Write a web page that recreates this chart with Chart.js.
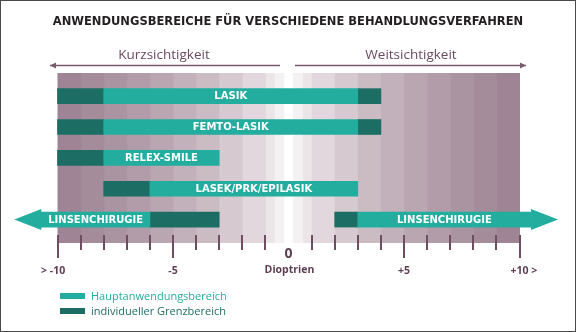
<!DOCTYPE html>
<html>
<head>
<meta charset="utf-8">
<script src="https://cdn.jsdelivr.net/npm/chart.js@4.4.1/dist/chart.umd.min.js"></script>
<style>
    html, body { margin: 0; padding: 0; background: #fff; }
    #wrap { position: relative; width: 576px; height: 332px; overflow: hidden; font-family: "Open Sans", sans-serif; }
    #wrap canvas { position: absolute; left: 0; top: 0; }
    .frame { position: absolute; left: 0; top: 0; width: 576px; height: 332px; box-sizing: border-box; border: 1px solid #4a4a4a; pointer-events: none; }
    .title { position: absolute; top: 14px; left: 0; width: 576px; text-align: center; font: bold 11.5px "DejaVu Sans", sans-serif; color: #231f20; }
    .side { position: absolute; top: 45px; font-size: 13.5px; color: #6b4a5f; text-align: center; width: 200px; }
    .legend { position: absolute; left: 60px; top: 288px; font-size: 11px; line-height: 15px; }
    .legend div { display: flex; align-items: center; }
    .legend span.sw { display: inline-block; width: 25px; height: 6px; margin-right: 6px; }
</style>
</head>
<body>
<div id="wrap">
    <canvas id="chart" width="576" height="332"></canvas>
    <div class="title">ANWENDUNGSBEREICHE FÜR VERSCHIEDENE BEHANDLUNGSVERFAHREN</div>
    <div class="side" style="left:64px">Kurzsichtigkeit</div>
    <div class="side" style="left:311px">Weitsichtigkeit</div>
    <div class="legend">
        <div style="color:#22ad9f"><span class="sw" style="background:#22ad9f"></span>Hauptanwendungsbereich</div>
        <div style="color:#1c6e65"><span class="sw" style="background:#1c6e65"></span>individueller Grenzbereich</div>
    </div>
    <div class="frame"></div>
</div>
<script>
// Behandlungsverfahren (Zeilen von oben nach unten)
const rows = ['LASIK', 'FEMTO-LASIK', 'RELEX-SMILE', 'LASEK/PRK/EPILASIK', 'LINSENCHIRUGIE'];

// Hauptanwendungsbereich (Dioptrien)
const mainRow   = [0, 1, 2, 3, 4, 4];
const mainFrom  = [-8, -8, -8, -6, -10.7, 3];
const mainTo    = [3, 3, -3, 3, -6, 10.5];
const mainArrow = [0, 0, 0, 0, -1, 1];   // Pfeilspitze links / rechts

// individueller Grenzbereich (Dioptrien)
const edgeRow  = [0, 0, 1, 1, 2, 3, 4, 4];
const edgeFrom = [-10, 3, -10, 3, -10, -8, -6, 2];
const edgeTo   = [-8, 4, -8, 4, -8, -6, -3, 3];

// Achse
const tickValues = [-10, -5, 0, 5, 10];
const tickLabels = ['> -10', '-5', '0', '+5', '+10 >'];

// Hintergrundstreifen: Grenzen (Abstand von 0) und Farben von innen nach außen
const stripeEdges  = [0, 0.2, 0.62, 1, 2, 3, 4, 5, 6, 7, 8, 9, 10];
const stripeColors = ['#ffffff', '#f4f1f3', '#ebe5e8', '#e1d7dc', '#d6cad0', '#cbbcc4',
                      '#c2b0ba', '#baa6b1', '#b29ca9', '#aa94a1', '#a48c9a', '#9e8494'];

const TEAL = '#22ad9f';
const DARK_TEAL = '#1c6e65';
const PURPLE = '#6d4d62';

// Hintergrund zeichnen
const stripePlugin = {
    id: 'stripes',
    beforeDatasetsDraw(chart) {
        const { ctx, chartArea, scales: { x } } = chart;
        const top = chartArea.top;
        const bottom = chartArea.bottom + 8;
        ctx.save();
        for (let i = 0; i < stripeColors.length; i++) {
            const a = stripeEdges[i], b = stripeEdges[i + 1];
            ctx.fillStyle = stripeColors[i];
            [[a, b], [-b, -a]].forEach(([lo, hi]) => {
                const x0 = x.getPixelForValue(lo);
                const x1 = x.getPixelForValue(hi);
                ctx.fillRect(x0, top, x1 - x0 + 0.5, bottom - top);
            });
        }
        ctx.restore();
    }
};

// Pfeile, Beschriftungen, Achsenstriche
const decoPlugin = {
    id: 'deco',
    afterDatasetsDraw(chart) {
        const { ctx, chartArea, scales: { x } } = chart;
        const meta = chart.getDatasetMeta(0);
        ctx.save();

        // Pfeilspitzen
        ctx.fillStyle = TEAL;
        meta.data.forEach((bar, i) => {
            const dir = mainArrow[i];
            if (!dir) return;
            const outer = dir < 0 ? Math.min(bar.x, bar.base) : Math.max(bar.x, bar.base);
            ctx.beginPath();
            ctx.moveTo(outer, bar.y - 10.5);
            ctx.lineTo(outer + dir * 27, bar.y);
            ctx.lineTo(outer, bar.y + 10.5);
            ctx.closePath();
            ctx.fill();
        });

        // Balkentexte
        ctx.fillStyle = '#ffffff';
        ctx.font = 'bold 10px "DejaVu Sans", sans-serif';
        ctx.textAlign = 'center';
        ctx.textBaseline = 'middle';
        meta.data.forEach((bar, i) => {
            const cx = (bar.x + bar.base) / 2;
            ctx.fillText(rows[mainRow[i]], cx, bar.y + 0.5);
        });

        // Achsenstriche
        ctx.strokeStyle = PURPLE;
        ctx.lineWidth = 2;
        for (let v = -10; v <= 10; v++) {
            if (v === 0) continue;
            const px = Math.round(x.getPixelForValue(v));
            const len = v % 5 === 0 ? 23 : 15;
            ctx.beginPath();
            ctx.moveTo(px, chartArea.bottom);
            ctx.lineTo(px, chartArea.bottom + len);
            ctx.stroke();
        }

        // Achsenbeschriftung
        ctx.fillStyle = '#5e3e52';
        tickValues.forEach((v, i) => {
            const px = x.getPixelForValue(v);
            const label = tickLabels[i];
            if (v === 0) {
                ctx.font = 'bold 14px "Open Sans", sans-serif';
                ctx.textAlign = 'center';
                ctx.fillText(label, px, 254);
                return;
            }
            ctx.font = 'bold 10.5px "Open Sans", sans-serif';
            const num = label.replace(/[<> ]/g, '');
            const half = ctx.measureText(num).width / 2;
            if (label.startsWith('>')) {
                ctx.textAlign = 'right';
                ctx.fillText(label, px + half, 271);
            } else {
                ctx.textAlign = 'left';
                ctx.fillText(label, px - half, 271);
            }
        });
        ctx.font = 'bold 10.5px "Open Sans", sans-serif';
        ctx.textAlign = 'center';
        ctx.fillText('Dioptrien', x.getPixelForValue(0) + 1, 270);

        ctx.restore();
    }
};

// Pfeillinien unter den Überschriften
const arrowPlugin = {
    id: 'sideArrows',
    afterDraw(chart) {
        const { ctx } = chart;
        ctx.save();
        ctx.strokeStyle = '#7b5a6f';
        ctx.fillStyle = '#7b5a6f';
        ctx.lineWidth = 1.5;
        const drawArrow = (x0, x1, y, dir) => {
            ctx.beginPath();
            ctx.moveTo(x0, y);
            ctx.lineTo(x1, y);
            ctx.stroke();
            const tip = dir < 0 ? x0 : x1;
            ctx.beginPath();
            ctx.moveTo(tip, y);
            ctx.lineTo(tip - dir * 6, y - 3);
            ctx.lineTo(tip - dir * 6, y + 3);
            ctx.closePath();
            ctx.fill();
        };
        drawArrow(50, 280, 65.5, -1);
        drawArrow(295, 526, 65.5, 1);
        ctx.restore();
    }
};

const ctx = document.getElementById('chart');
new Chart(ctx, {
    type: 'bar',
    data: {
        datasets: [
            {
                label: 'Hauptanwendungsbereich',
                data: mainFrom.map((f, i) => ({ x: [f, mainTo[i]], y: mainRow[i] })),
                backgroundColor: TEAL
            },
            {
                label: 'individueller Grenzbereich',
                data: edgeFrom.map((f, i) => ({ x: [f, edgeTo[i]], y: edgeRow[i] })),
                backgroundColor: DARK_TEAL
            }
        ]
    },
    options: {
        indexAxis: 'y',
        responsive: false,
        animation: false,
        datasets: {
            bar: { barThickness: 15, grouped: false, clip: false, borderWidth: 0 }
        },
        layout: { padding: { left: 57.5, right: 56.5, top: 73, bottom: 97 } },
        scales: {
            x: { type: 'linear', min: -10, max: 10, display: false, offset: false },
            y: { type: 'linear', min: -0.75, max: 4.5, reverse: true, display: false, offset: false }
        },
        plugins: {
            legend: { display: false },
            tooltip: { enabled: false }
        }
    },
    plugins: [stripePlugin, decoPlugin, arrowPlugin]
});
</script>
</body>
</html>
